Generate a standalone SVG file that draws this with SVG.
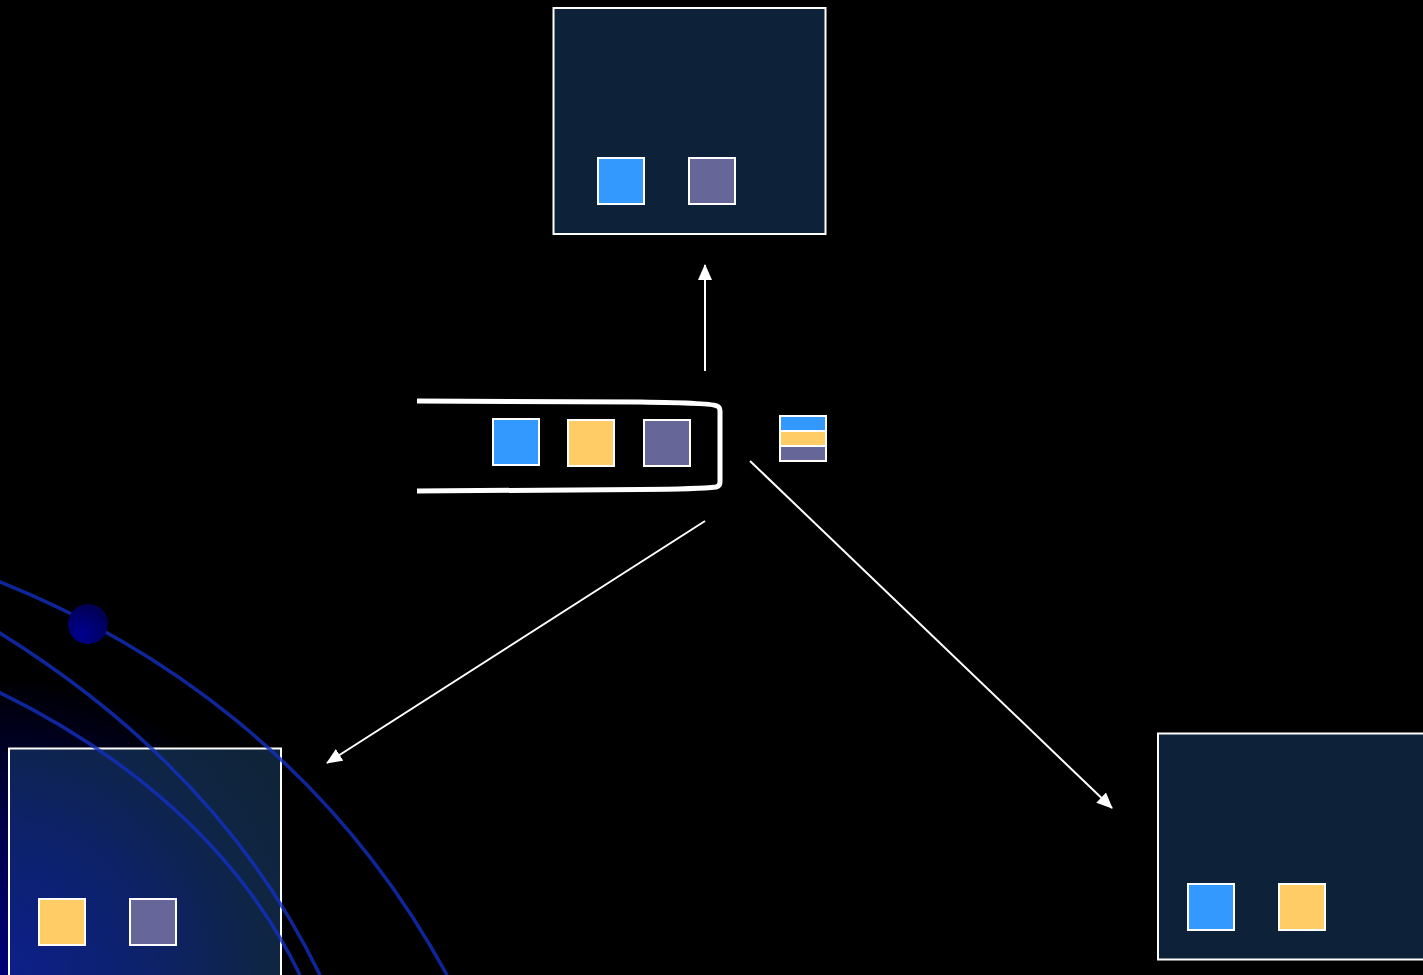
<svg xmlns="http://www.w3.org/2000/svg" width="1423" height="975" viewBox="0 0 1423 975">
  <defs>
    <style>
      .box { fill: #0f2842; fill-opacity: 0.86; stroke: #ffffff; stroke-width: 2; }
      .sq { stroke: #ffffff; stroke-width: 2; }
      .blue { fill: #3399ff; }
      .yellow { fill: #ffcc66; }
      .purple { fill: #666699; }
      .conn { stroke: #ffffff; stroke-width: 2; fill: none; marker-end: url(#arrow); }
      .orbit { fill: none; stroke: #1230c0; stroke-opacity: 0.8; stroke-width: 3.5; }
    </style>
    <marker id="arrow" viewBox="0 0 16 14" refX="15" refY="7" markerWidth="16" markerHeight="14" markerUnits="userSpaceOnUse" orient="auto">
      <path d="M0 0 L16 7 L0 14 Z" fill="#ffffff"/>
    </marker>
    <radialGradient id="glow" cx="0" cy="975" r="300" gradientUnits="userSpaceOnUse">
      <stop offset="0" stop-color="#000078"/>
      <stop offset="0.5" stop-color="#00004a"/>
      <stop offset="0.9" stop-color="#000010"/>
      <stop offset="1" stop-color="#000000"/>
    </radialGradient>
    <radialGradient id="boxglow" cx="0" cy="975" r="340" gradientUnits="userSpaceOnUse">
      <stop offset="0" stop-color="#0c1f8c"/>
      <stop offset="0.45" stop-color="#0d2268"/>
      <stop offset="0.8" stop-color="#0f2542"/>
      <stop offset="1" stop-color="#0f2438"/>
    </radialGradient>
    <radialGradient id="ball" cx="0.35" cy="0.75" r="0.8">
      <stop offset="0" stop-color="#00008f"/>
      <stop offset="1" stop-color="#000050"/>
    </radialGradient>
  </defs>
  <rect x="0" y="0" width="1423" height="975" fill="#000000"/>
  <g id="background">
    <rect x="0" y="660" width="320" height="315" fill="url(#glow)"/>
  </g>
  <g id="node-bottom-left">
    <rect x="9" y="748.5" width="272" height="230" fill="url(#boxglow)" stroke="#ffffff" stroke-width="2"/>
    <rect class="sq yellow" x="39" y="899" width="46" height="46"/>
    <rect class="sq purple" x="130" y="899" width="46" height="46"/>
  </g>
  <g id="orbits">
    <path class="orbit" d="M -10 578 C 150 640, 330 760, 447 975"/>
    <path class="orbit" d="M -10 627 C 110 700, 240 810, 320 975"/>
    <path class="orbit" d="M -10 688 C 100 740, 230 830, 300 975"/>
    <circle cx="88" cy="624" r="20" fill="url(#ball)"/>
  </g>
  <g id="connectors">
    <line class="conn" x1="705" y1="371" x2="705" y2="265"/>
    <line class="conn" x1="705" y1="521" x2="327" y2="763"/>
    <line class="conn" x1="750" y1="461" x2="1112" y2="808"/>
  </g>
  <g id="node-top">
    <rect class="box" x="553.5" y="8" width="272" height="226"/>
    <rect class="sq blue" x="598" y="158" width="46" height="46"/>
    <rect class="sq purple" x="689" y="158" width="46" height="46"/>
  </g>
  <g id="node-right">
    <rect class="box" x="1158" y="733.5" width="272" height="226"/>
    <rect class="sq blue" x="1188" y="884" width="46" height="46"/>
    <rect class="sq yellow" x="1279" y="884" width="46" height="46"/>
  </g>
  <g id="node-center">
    <path d="M 417 401 L 640 402 Q 713 403 717 406 Q 720 407 720 411 L 720 482 Q 720 486 716 487 Q 700 489 640 489.5 L 417 491" fill="none" stroke="#ffffff" stroke-width="5"/>
    <rect class="sq blue" x="493" y="419" width="46" height="46"/>
    <rect class="sq yellow" x="568" y="420" width="46" height="46"/>
    <rect class="sq purple" x="644" y="420" width="46" height="46"/>
  </g>
  <g id="node-stack">
    <rect class="sq blue" x="780" y="416" width="46" height="15"/>
    <rect class="sq yellow" x="780" y="431" width="46" height="15"/>
    <rect class="sq purple" x="780" y="446" width="46" height="15"/>
  </g>
</svg>
